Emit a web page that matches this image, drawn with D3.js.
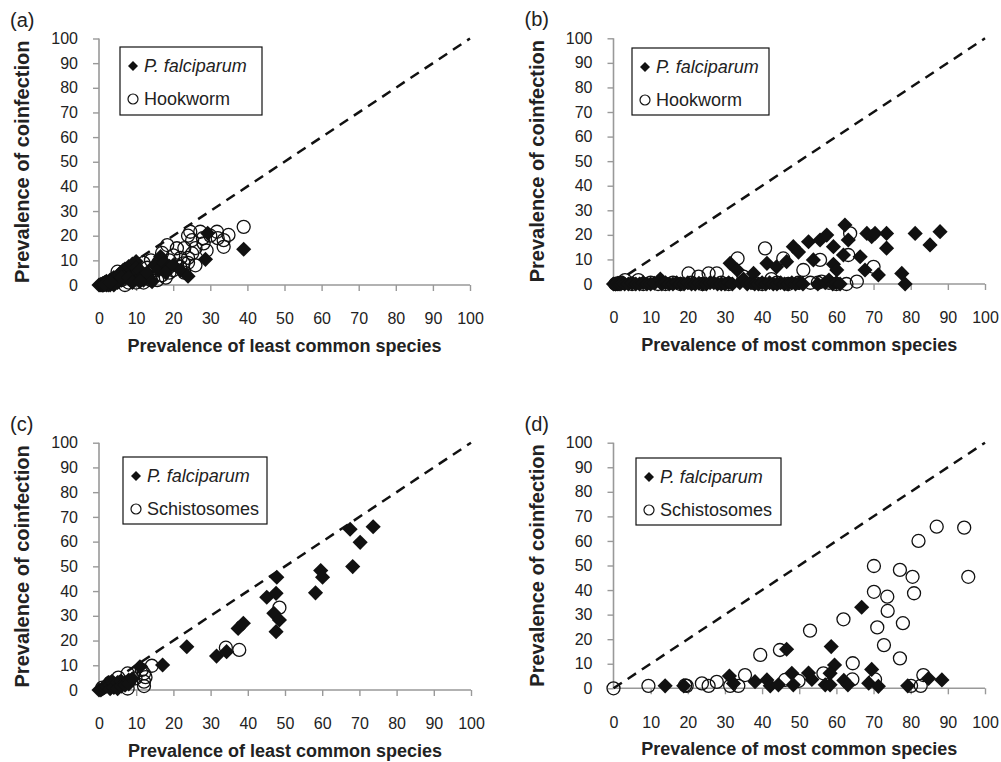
<!DOCTYPE html>
<html>
<head>
<meta charset="utf-8" />
<title>Prevalence of coinfection</title>
<script src="https://d3js.org/d3.v7.min.js"></script>
<style>
  body { margin: 0; background: #fff; }
  svg { font-family: "Liberation Sans", Arial, sans-serif; }
</style>
</head>
<body>
<svg id="chart" width="1001" height="762"></svg>
<script>
// ticks shared by all four panels
const tickValues = [0, 10, 20, 30, 40, 50, 60, 70, 80, 90, 100];
const diagLine = [0, 100];

// (a) least common species, P. falciparum vs hookworm
const aFalciparum = [
  [0, 0], [0.3, 0], [0.5, 0.3], [0.8, 0], [1, 0.6], [1.2, 0], [1.5, 1], [2, 0], [2, 1.5],
  [2.5, 0.5], [3, 2], [3, 0], [3.5, 2.5], [4, 1], [4, 3], [4.5, 2], [5, 3.5], [5, 1],
  [5.5, 4.5], [6, 2], [6, 5], [6.5, 6], [7, 3], [7, 6.5], [7.5, 4], [8, 5], [8, 7.5],
  [8.5, 2], [9, 6], [9, 8.5], [9.5, 4], [10, 9.5], [10, 7], [10.5, 5], [11, 3], [11, 6],
  [12, 4], [12, 2], [13, 5], [14.3, 1.4], [15, 8], [16.6, 11.5], [16, 6], [17.5, 9],
  [19, 7.6], [18, 5], [20, 8], [22, 6], [24, 3.6], [28.7, 10.4], [29.3, 21], [39, 14.5],
  [1, 0], [2.5, 0], [4, 0], [1.5, 0.3], [3, 1], [6, 3], [8, 3], [9, 1], [11, 1.5]
];
const aHookworm = [
  [1, 0], [2, 1], [3, 1], [4, 2], [5, 5.4], [5, 3], [6, 2], [7, 0], [7, 4], [8, 1], [8, 6],
  [9, 3], [10, 1], [10, 7], [11, 5], [12, 1], [12, 9], [13, 3], [13, 7], [14, 10], [14, 2],
  [15.7, 2], [15, 6], [16, 9], [17, 4], [17, 13], [18.4, 16.2], [19, 10], [19, 5], [20, 6],
  [20, 12], [21, 14.9], [21, 8], [22, 11], [21.9, 7.4], [22.8, 8.8], [23, 15], [24, 11],
  [24.6, 21.6], [25.1, 18.2], [25.1, 12.8], [24, 20], [26, 8], [26, 15], [27.3, 21.6],
  [28.2, 16.9], [28, 19], [29, 14], [30, 20], [31.8, 21.6], [32, 19], [33.6, 18.2],
  [33.6, 15.5], [34.9, 20.3], [39, 23.6], [23, 5], [18, 3], [24, 9]
];

// (b) most common species, P. falciparum vs hookworm
const bFalciparum = [
  [0, 0], [0.5, 0], [1, 0.3], [1.5, 0], [2, 0], [2.5, 0.5], [3, 0], [4, 0], [5, 0.3], [6, 0],
  [7, 0], [8, 0.5], [9, 0], [10, 0], [11, 0.3], [12.6, 2], [13, 0], [14, 0.5], [15, 0],
  [16, 0], [17, 0.5], [18, 0], [19, 0], [20, 0.5], [21, 0], [22, 0], [23, 0.3], [24, 0],
  [25, 0], [26, 0.5], [27, 0.5], [28, 0], [29, 0], [30, 0], [31.4, 8.4], [31, 0.5], [32, 0],
  [33.3, 5.7], [34, 0.5], [35, 2], [36, 0], [37, 0.5], [37.7, 4.3], [38, 0], [39, 0],
  [40, 0.5], [41.3, 8.4], [41, 0], [42, 0.5], [43.9, 7], [43, 0], [44, 0], [45, 0.5],
  [46.6, 9.1], [46, 0], [47, 0], [48.4, 15.2], [49.8, 13], [48, 0.5], [49, 0], [50, 0.5],
  [51, 0], [52.5, 17.2], [53.8, 9.8], [55.6, 17.9], [55, 0], [57.4, 19.9], [57, 0.5],
  [58, 1.6], [59.2, 15.2], [59.2, 8], [60.1, 5.7], [59, 0], [60, 0.5], [61, 0],
  [61.9, 11.8], [62.3, 24], [63.2, 17.9], [66.4, 11.1], [67.7, 5.7], [68.2, 20.6],
  [69.5, 19.3], [70.4, 20.6], [71.3, 3.7], [73.5, 20.6], [73.5, 14.6], [77.6, 4.3],
  [78.5, 0], [81.2, 20.6], [85.2, 15.9], [87.9, 21.3]
];
const bHookworm = [
  [0.5, 0], [1, 0], [2, 0.5], [3.1, 1.6], [5, 0], [6.7, 1.6], [8, 0], [10, 0.5], [12, 0],
  [14, 0], [16, 0.5], [18, 0], [20.2, 4.3], [21, 0.5], [22.9, 3], [24, 0], [25.6, 4.3],
  [27.8, 4.3], [29, 0.5], [31, 0], [33.4, 10.4], [35, 3], [37.6, 0.5], [40.8, 14.5],
  [40, 0], [42.5, 2], [44, 0.5], [45.7, 10.4], [47, 0], [49.8, 0.5], [51.1, 5.7], [53, 0.5],
  [55, 0.5], [55.6, 9.8], [56, 1], [58, 0.5], [60, 0], [62.7, 0], [63.2, 11.8],
  [63.7, 20.6], [65.5, 1], [70, 7]
];

// (c) least common species, P. falciparum vs schistosomes
const cFalciparum = [
  [0, 0], [0.5, 0], [1, 0.5], [1.5, 1], [2, 1.5], [2.5, 3], [3, 2], [3, 0.5], [3.5, 3.5],
  [4, 2.5], [4, 1], [5, 3], [5, 0.5], [6, 3.5], [6, 1.5], [7, 3], [7, 2], [8, 4], [8, 2.5],
  [9, 4.5], [11, 9.4], [17.1, 10.1], [23.6, 17.5], [31.6, 13.7], [34.3, 15.5], [37.4, 24.9],
  [38.8, 27], [45.1, 37.5], [47.6, 39.1], [47.8, 45.6], [47, 31], [48.5, 28.3], [47.6, 23.6],
  [58.2, 39.3], [59.6, 48.3], [60.1, 45.6], [67.5, 65], [68.2, 49.9], [70.2, 59.7],
  [73.7, 66]
];
const cSchistosomes = [
  [0.9, 1], [3, 3], [5.2, 5], [7.7, 6.7], [7.7, 0.6], [9.8, 4.7], [11.5, 8.1], [12.1, 6.7],
  [12.5, 5.2], [12.1, 3.4], [12.1, 1.6], [14.2, 9.8], [34.1, 17.1], [37.7, 16.2], [48.5, 33.3]
];

// (d) most common species, P. falciparum vs schistosomes
const dFalciparum = [
  [13.9, 1], [18.9, 1], [31.2, 5], [32.3, 2], [38.1, 2.7], [41.3, 3.4], [42.2, 1],
  [44.4, 1.4], [46.6, 15.9], [48, 6.1], [48.4, 1.4], [52.5, 6.2], [53.4, 3.6], [57, 1.4],
  [58.3, 1.4], [58.6, 17], [59.5, 9.5], [58.3, 6.1], [62, 3.2], [63.1, 1.4], [66.8, 33],
  [69.5, 7.7], [68.7, 2.1], [71.3, 0.8], [79.2, 1], [84.8, 4], [88.4, 3.4]
];
const dSchistosomes = [
  [0, 0], [9.4, 1], [19.3, 1.2], [19.7, 1], [23.8, 2], [25.6, 1], [27.8, 2.6], [31.4, 1],
  [33.6, 1], [35.4, 5.4], [39.5, 13.6], [44.8, 15.6], [46.2, 3.4], [49.8, 3], [52.9, 23.5],
  [56.5, 6.1], [61.9, 28.1], [64.4, 10.2], [64.3, 3.6], [70.1, 49.8], [70.1, 39.3],
  [73.7, 37.3], [73.8, 31.5], [71, 24.8], [72.8, 17.6], [70.4, 3.6], [77.1, 48.2],
  [77.9, 26.5], [77.1, 12.2], [80.5, 45.4], [80.9, 38.7], [82.1, 60], [87, 65.8],
  [94.4, 65.4], [95.5, 45.4], [83.4, 5.4], [82.7, 1], [80.1, 1]
];

const panels = [
  { tag: "(a)", left: 99, right: 470, top: 38.5, bottom: 285, xTitle: "Prevalence of least common species",
    diamonds: aFalciparum, circles: aHookworm, other: "Hookworm",
    legend: { x: 120, y: 47, w: 142, h: 68 } },
  { tag: "(b)", left: 613.5, right: 985, top: 38.3, bottom: 284, xTitle: "Prevalence of most common species",
    diamonds: bFalciparum, circles: bHookworm, other: "Hookworm",
    legend: { x: 632, y: 48, w: 137, h: 67 } },
  { tag: "(c)", left: 99, right: 471, top: 442.7, bottom: 690, xTitle: "Prevalence of least common species",
    diamonds: cFalciparum, circles: cSchistosomes, other: "Schistosomes",
    legend: { x: 123, y: 457, w: 144, h: 67 } },
  { tag: "(d)", left: 613.5, right: 985, top: 442.7, bottom: 688.3, xTitle: "Prevalence of most common species",
    diamonds: dFalciparum, circles: dSchistosomes, other: "Schistosomes",
    legend: { x: 636, y: 458, w: 145, h: 67 } }
];

const svg = d3.select("#chart");
const axisColor = "#999";
const diamond = d3.symbol(d3.symbolSquare).size(115)();
const legendDiamond = d3.symbol(d3.symbolSquare).size(50)();

panels.forEach((p) => {
  const x = d3.scaleLinear().domain([0, 100]).range([p.left, p.right]);
  const y = d3.scaleLinear().domain([0, 100]).range([p.bottom, p.top]);
  const g = svg.append("g");

  // panel letter
  g.append("text")
    .attr("x", p.left - 89)
    .attr("y", p.top - 12)
    .style("font-size", "20px")
    .attr("fill", "#222")
    .text(p.tag);

  // axes
  const xAxis = g.append("g")
    .attr("transform", `translate(0,${p.bottom})`)
    .call(d3.axisBottom(x).tickValues(tickValues).tickSize(6).tickPadding(22));
  const yAxis = g.append("g")
    .attr("transform", `translate(${p.left},0)`)
    .call(d3.axisLeft(y).tickValues(tickValues).tickSize(6).tickPadding(15));
  [xAxis, yAxis].forEach((ax) => {
    ax.select(".domain").attr("stroke", axisColor).attr("stroke-width", 1.6);
    ax.selectAll(".tick line").attr("stroke", axisColor).attr("stroke-width", 1.4);
    ax.selectAll(".tick text")
      .attr("fill", "#222")
      .style("font-size", "16px")
      .style("font-family", '"Liberation Sans", Arial, sans-serif');
  });
  yAxis.select(".domain").attr("d", `M0,${p.bottom}V${p.top}`);
  xAxis.select(".domain").attr("d", `M${p.left},0H${p.right}`);
  xAxis.selectAll(".tick").filter((d) => d === 0).select("line").remove();

  // axis titles
  g.append("text")
    .attr("x", (p.left + p.right) / 2)
    .attr("y", p.bottom + 67)
    .attr("text-anchor", "middle")
    .style("font-size", "18px")
    .style("font-weight", "bold")
    .attr("fill", "#222")
    .text(p.xTitle);
  g.append("text")
    .attr("transform", `translate(${p.left - 77},${(p.top + p.bottom) / 2}) rotate(-90)`)
    .attr("text-anchor", "middle")
    .attr("dy", "0.35em")
    .style("font-size", "20px")
    .style("font-weight", "bold")
    .attr("fill", "#222")
    .text("Prevalence of coinfection");

  // 1:1 line
  g.append("path")
    .datum(diagLine)
    .attr("d", d3.line().x((d) => x(d)).y((d) => y(d)))
    .attr("fill", "none")
    .attr("stroke", "#111")
    .attr("stroke-width", 2.5)
    .attr("stroke-dasharray", "10,7");

  // points
  g.append("g").selectAll("circle")
    .data(p.circles)
    .join("circle")
    .attr("cx", (d) => x(d[0]))
    .attr("cy", (d) => y(d[1]))
    .attr("r", 6.5)
    .attr("fill", "none")
    .attr("stroke", "#111")
    .attr("stroke-width", 1.3);
  g.append("g").selectAll("path")
    .data(p.diamonds)
    .join("path")
    .attr("d", diamond)
    .attr("transform", (d) => `translate(${x(d[0])},${y(d[1])}) rotate(45)`)
    .attr("fill", "#111");

  // legend
  const L = p.legend;
  const lg = g.append("g");
  lg.append("rect")
    .attr("x", L.x).attr("y", L.y)
    .attr("width", L.w).attr("height", L.h)
    .attr("fill", "#fff")
    .attr("stroke", "#111")
    .attr("stroke-width", 1.2);
  lg.append("path")
    .attr("d", legendDiamond)
    .attr("transform", `translate(${L.x + 13},${L.y + 19}) rotate(45)`)
    .attr("fill", "#111");
  lg.append("text")
    .attr("x", L.x + 24).attr("y", L.y + 25)
    .style("font-size", "18px")
    .style("font-style", "italic")
    .attr("fill", "#222")
    .text("P. falciparum");
  lg.append("circle")
    .attr("cx", L.x + 13).attr("cy", L.y + 52)
    .attr("r", 5)
    .attr("fill", "none")
    .attr("stroke", "#111")
    .attr("stroke-width", 1.2);
  lg.append("text")
    .attr("x", L.x + 24).attr("y", L.y + 58)
    .style("font-size", "18px")
    .attr("fill", "#222")
    .text(p.other);
});
</script>
</body>
</html>
